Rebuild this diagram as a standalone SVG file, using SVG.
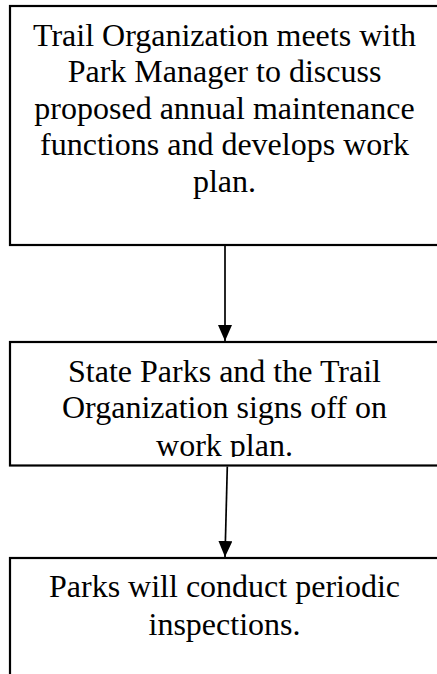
<svg xmlns="http://www.w3.org/2000/svg" width="437" height="674" viewBox="0 0 437 674">
  <style>
    .box { fill: #ffffff; stroke: #000000; stroke-width: 2.2; }
    .label { font-family: "Liberation Serif", "Times New Roman", serif; font-size: 32px; fill: #000000; text-anchor: middle; }
    .conn { stroke: #000000; stroke-width: 1.7; fill: none; }
  </style>
  <defs>
    <marker id="arrow" viewBox="0 0 16 14" refX="16" refY="7" markerWidth="16" markerHeight="14" markerUnits="userSpaceOnUse" orient="auto">
      <path d="M0,0 L16,7 L0,14 Z" fill="#000000"/>
    </marker>
    <clipPath id="clip2">
      <rect x="11" y="343" width="428" height="114"/>
    </clipPath>
  </defs>
  <rect x="0" y="0" width="437" height="674" fill="#ffffff"/>
  <g id="node1">
    <rect class="box" x="10" y="6" width="429" height="239"/>
    <text class="label" x="224.5" y="45.7">Trail Organization meets with</text>
    <text class="label" x="224.5" y="82.2">Park Manager to discuss</text>
    <text class="label" x="224.5" y="118.7">proposed annual maintenance</text>
    <text class="label" x="224.5" y="155.2">functions and develops work</text>
    <text class="label" x="224.5" y="191.7">plan.</text>
  </g>
  <g id="node2">
    <rect class="box" x="10" y="342" width="429" height="123.5"/>
    <g clip-path="url(#clip2)">
      <text class="label" x="224.5" y="381.7">State Parks and the Trail</text>
      <text class="label" x="224.5" y="418.2">Organization signs off on</text>
      <text class="label" x="224.5" y="455.7">work plan.</text>
    </g>
  </g>
  <g id="node3">
    <rect class="box" x="10" y="558" width="429" height="130"/>
    <text class="label" x="224.5" y="597.4">Parks will conduct periodic</text>
    <text class="label" x="224.5" y="634.5">inspections.</text>
  </g>
  <g id="connectors">
    <line class="conn" x1="225" y1="246" x2="225" y2="341" marker-end="url(#arrow)"/>
    <line class="conn" x1="227.3" y1="466.5" x2="225" y2="557" marker-end="url(#arrow)"/>
  </g>
</svg>
